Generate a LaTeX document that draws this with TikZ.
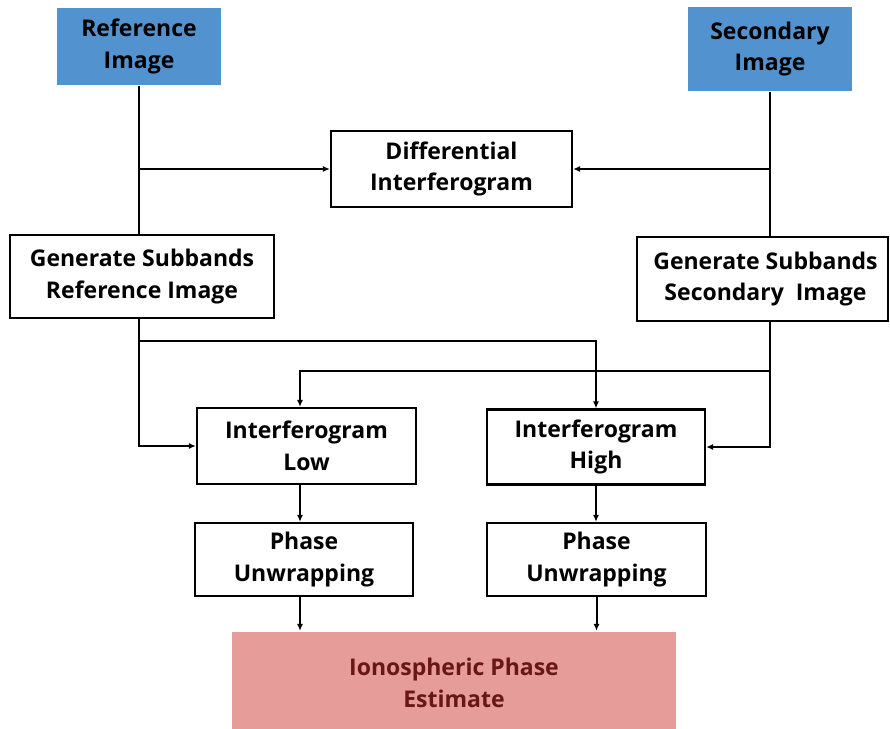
\documentclass[tikz,border=0pt]{standalone}
\usepackage{fontspec}
\setmainfont{Open Sans}
\usetikzlibrary{arrows.meta}
\definecolor{imgblue}{RGB}{82,147,207}
\definecolor{estpink}{RGB}{230,156,153}
\definecolor{estred}{RGB}{105,22,22}

\begin{document}
\begin{tikzpicture}[x=1pt,y=-1pt,
    box/.style={draw,line width=2.2pt,fill=white,align=center,inner sep=0pt,
      font=\bfseries\fontsize{23}{31.5}\selectfont},
    imgbox/.style={box,draw=none,fill=imgblue},
    estbox/.style={box,draw=none,fill=estpink,text=estred},
    wire/.style={line width=2pt},
    arr/.style={wire,-{Latex[length=7pt,width=6pt]}}]
    \useasboundingbox (0,0) rectangle (890,728);

    % 输入图像
    \node[imgbox,minimum width=164pt,minimum height=77pt] (refimg) at (139,46.5) {Reference\\Image};
    \node[imgbox,minimum width=164pt,minimum height=84pt] (secimg) at (770,49) {Secondary\\Image};
    \node[box,minimum width=241pt,minimum height=76pt] (diff) at (451.5,169) {Differential\\Interferogram};

    % 子带
    \node[box,minimum width=264pt,minimum height=83pt] (genref) at (142,276.5) {Generate Subbands\\Reference Image};
    \node[box,minimum width=251pt,minimum height=84pt] (gensec) at (762.5,279) {\hspace*{6pt}Generate Subbands\\\hspace*{6pt}Secondary\ \ Image};

    % 干涉图与解缠
    \node[box,minimum width=219pt,minimum height=76pt] (intlow) at (306.5,446) {Interferogram\\Low};
    \node[box,minimum width=218pt,minimum height=75pt] (inthigh) at (596,447) {Interferogram\\High};
    \node[box,minimum width=218pt,minimum height=73pt] (phlow) at (304,559.5) {Phase\\Unwrapping};
    \node[box,minimum width=219pt,minimum height=73pt] (phhigh) at (596.5,559.5) {Phase\\Unwrapping};
    \node[estbox,minimum width=444pt,minimum height=102pt] (est) at (454,683) {Ionospheric Phase\\Estimate};

    \coordinate (lowcol) at (300,0);
    \coordinate (refjoin) at (139,341);
    \coordinate (secjoin) at (770,371);

    % 连线
    \draw[wire] (refimg.south) -- (refimg.south |- genref.north);
    \draw[arr] (refimg.south |- diff.west) -- (diff.west);
    \draw[wire] (secimg.south) -- (secimg.south |- gensec.north);
    \draw[arr] (secimg.south |- diff.east) -- (diff.east);

    \draw[arr] (genref.south -| refimg.south) |- (intlow.west);
    \draw[arr] (refjoin) -| (inthigh.north);
    \draw[arr] (gensec.south -| secimg.south) |- (inthigh.east);
    \draw[arr] (secjoin) -| (intlow.north -| lowcol);

    \draw[arr] (intlow.south -| lowcol) -- (phlow.north -| lowcol);
    \draw[arr] (inthigh.south) -- (inthigh.south |- phhigh.north);
    \draw[arr] (phlow.south -| lowcol) -- (est.north -| lowcol);
    \draw[arr] (phhigh.south) -- (phhigh.south |- est.north);
\end{tikzpicture}
\end{document}
